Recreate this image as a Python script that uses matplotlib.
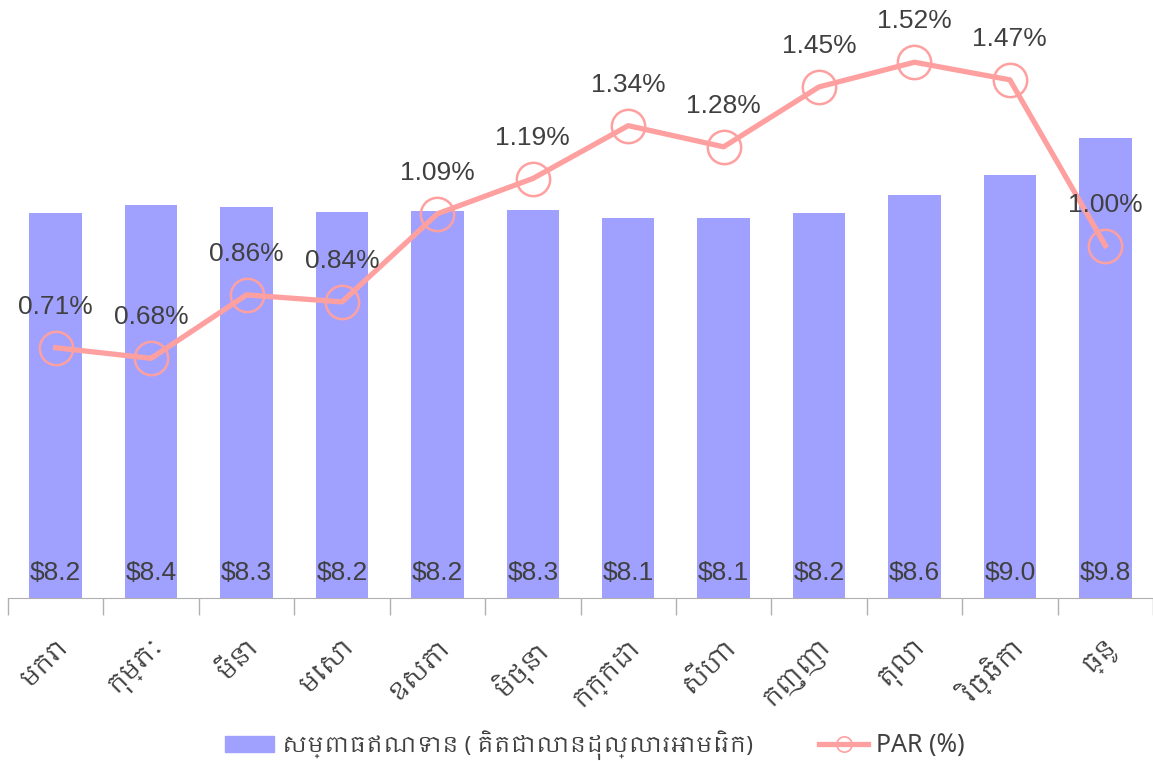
#!/usr/bin/env python3
"""Credit outstanding (bars) and PAR (line) by month."""
import matplotlib
matplotlib.use("Agg")
import matplotlib.pyplot as plt
from matplotlib import font_manager
from matplotlib.lines import Line2D
from matplotlib.patches import Patch

MONTHS = ["មករា", "កុម្ភៈ", "មីនា", "មេសា", "ឧសភា", "មិថុនា",
          "កក្កដា", "សីហា", "កញ្ញា", "តុលា", "វិច្ឆិកា", "ធ្នូ"]
CREDIT = [8.20, 8.36, 8.33, 8.22, 8.24, 8.26, 8.10, 8.09, 8.20, 8.58, 9.01, 9.80]
PAR = [0.71, 0.68, 0.86, 0.84, 1.09, 1.19, 1.34, 1.28, 1.45, 1.52, 1.47, 1.00]

BAR_LABEL = "សម្ពាធឥណទាន ( គិតជាលានដុល្លារអាមេរិក)"
LINE_LABEL = "PAR (%)"

BAR_COLOR = "#a0a0ff"
LINE_COLOR = "#ffa0a0"
TEXT_COLOR = "#404040"

installed = {f.name for f in font_manager.fontManager.ttflist}
khmer = [n for n in installed if "Khmer" in n]
LATIN = ["Liberation Sans", "DejaVu Sans"]
KHMER_FAM = khmer + LATIN

plt.rcParams["font.family"] = LATIN

fig = plt.figure(figsize=(11.53, 7.61), dpi=100)
ax = fig.add_axes([8 / 1153, 1 - 598 / 761, 1 - 8 / 1153, 598 / 761])
x = list(range(len(MONTHS)))

ax.bar(x, CREDIT, width=0.55, color=BAR_COLOR, zorder=1)
for xi, v in zip(x, CREDIT):
    ax.annotate(f"${v:.1f}", (xi, 0), xytext=(0, 25), textcoords="offset pixels",
                ha="center", va="center", fontsize=19, color=TEXT_COLOR)

ax.set_xlim(-0.5, len(MONTHS) - 0.5)
ax.set_ylim(0, 598 / 46.95)
for s in ["top", "right", "left"]:
    ax.spines[s].set_visible(False)
ax.spines["bottom"].set_color("#b0b0b0")
ax.set_yticks([])
ax.set_xticks([i - 0.5 for i in range(len(MONTHS) + 1)])
ax.set_xticklabels([])
ax.tick_params(axis="x", which="major", length=12, color="#b0b0b0", width=1)
ax.set_xticks(x, minor=True)
ax.set_xticklabels(MONTHS, minor=True, rotation=45, ha="right", rotation_mode="anchor",
                   fontsize=18, color=TEXT_COLOR, family=KHMER_FAM)
ax.tick_params(axis="x", which="minor", length=0, pad=26)

ax2 = ax.twinx()
ax2.set_ylim(0, 597 / 351.9)
ax2.axis("off")
ax2.plot(x, PAR, color=LINE_COLOR, lw=3.8, zorder=3)
ax2.plot(x, PAR, ls="none", marker="o", ms=24, mfc="none", mec=LINE_COLOR, mew=1.8, zorder=4)
for xi, v in zip(x, PAR):
    ax2.annotate(f"{v:.2f}%", (xi, v), xytext=(0, 41), textcoords="offset pixels",
                 ha="center", va="center", fontsize=19, color=TEXT_COLOR)

handles = [
    Patch(color=BAR_COLOR),
    Line2D([], [], color=LINE_COLOR, lw=3.8, marker="o", ms=11, mfc="none", mec=LINE_COLOR, mew=1.2),
]
leg = fig.legend(handles, [BAR_LABEL, LINE_LABEL], loc="center", bbox_to_anchor=(0.516, 1 - 745 / 761),
                 ncol=2, frameon=False, handlelength=2.2, handletextpad=0.35,
                 columnspacing=3.0, prop={"family": KHMER_FAM, "size": 16})
for t in leg.get_texts():
    t.set_color(TEXT_COLOR)
leg.get_texts()[1].set_fontsize(18)

fig.savefig("out.png", dpi=100)
